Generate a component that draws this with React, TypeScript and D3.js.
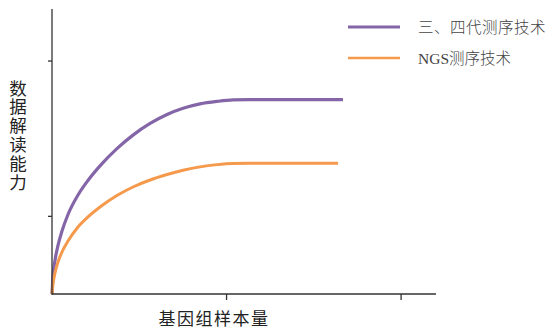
import React from "react";
import * as d3 from "d3";

const seriesNames = ["三、四代测序技术", "NGS测序技术"];
const seriesColors = ["#8466a8", "#f59a4c"];

// x: genome sample size, y: data interpretation ability (arbitrary units)
const purpleX = [0, 0.057, 0.172, 0.344, 0.573, 0.917, 1.49, 2.06, 2.75, 3.72, 4.64, 5.62, 6.59, 7.51, 8.48, 9.45, 10.37, 11.34, 16.67];
const purpleY = [0, 2.32, 4.33, 6.26, 8.11, 10.24, 12.75, 14.62, 16.5, 18.72, 20.46, 21.96, 23.11, 23.91, 24.48, 24.8, 24.99, 25.02, 25.02];
const orangeX = [0, 0.057, 0.172, 0.344, 0.63, 0.917, 1.49, 2.06, 2.75, 3.72, 4.64, 5.62, 6.59, 7.51, 8.48, 9.45, 10.37, 11.34, 16.39];
const orangeY = [0, 1.29, 2.7, 4.12, 5.67, 6.82, 8.63, 9.92, 11.2, 12.68, 13.78, 14.68, 15.38, 15.93, 16.37, 16.66, 16.81, 16.83, 16.83];

const xTicks = [10, 20];
const yTicks = [10, 30];
const xLabel = "基因组样本量";
const yLabel = "数据解读能力";

export default function App() {
  const W = 552, H = 331;
  const x = d3.scaleLinear().domain([0, 22]).range([52, 436]);
  const y = d3.scaleLinear().domain([0, 36.7]).range([294, 9]);
  const line = d3
    .line<[number, number]>()
    .x((d) => x(d[0]))
    .y((d) => y(d[1]))
    .curve(d3.curveMonotoneX);
  const series = [
    purpleX.map((v, i) => [v, purpleY[i]] as [number, number]),
    orangeX.map((v, i) => [v, orangeY[i]] as [number, number]),
  ];
  const legendY = [27, 58];
  const cjk = "'Noto Sans CJK SC', sans-serif";
  return (
    <svg
      width={W}
      height={H}
      style={{ position: "absolute", left: 0, top: 0, background: "#fff" }}
    >
      {series.map((s, i) => (
        <path
          key={i}
          d={line(s) || ""}
          fill="none"
          stroke={seriesColors[i]}
          strokeWidth={i === 0 ? 3.2 : 3}
          strokeLinecap="butt"
          strokeLinejoin="round"
        />
      ))}
      {/* axes */}
      <line x1={x(0)} x2={x(0)} y1={y(0) + 1} y2={y(36.7)} stroke="#333" strokeWidth={1.3} />
      <line x1={x(0)} x2={x(22)} y1={y(0)} y2={y(0)} stroke="#333" strokeWidth={1.5} />
      {yTicks.map((t) => (
        <line key={t} x1={x(0) - 4} x2={x(0)} y1={y(t)} y2={y(t)} stroke="#333" strokeWidth={1.3} />
      ))}
      {xTicks.map((t) => (
        <line key={t} x1={x(t)} x2={x(t)} y1={y(0)} y2={y(0) + 6} stroke="#333" strokeWidth={1.3} />
      ))}
      {/* axis labels */}
      {yLabel.split("").map((c, i) => (
        <text
          key={i}
          x={18}
          y={87 + i * 18.8}
          textAnchor="middle"
          dominantBaseline="central"
          fontFamily={cjk}
          fontSize={17.5}
          fill="#222"
        >
          {c}
        </text>
      ))}
      <text
        x={214}
        y={317}
        textAnchor="middle"
        dominantBaseline="central"
        fontFamily={cjk}
        fontSize={17}
        letterSpacing={1.5}
        fill="#222"
      >
        {xLabel}
      </text>
      {/* legend */}
      {seriesNames.map((n, i) => (
        <g key={n}>
          <line
            x1={348}
            x2={400}
            y1={legendY[i]}
            y2={legendY[i]}
            stroke={seriesColors[i]}
            strokeWidth={i === 0 ? 3.2 : 2.6}
          />
          <text
            x={418}
            y={legendY[i]}
            dominantBaseline="central"
            fontFamily={"'Liberation Serif', 'Noto Sans CJK SC', serif"}
            fontSize={15.5}
            fontWeight={300}
            fill="#444"
            letterSpacing={i === 0 ? 0.5 : 0}
          >
            {n}
          </text>
        </g>
      ))}
    </svg>
  );
}
